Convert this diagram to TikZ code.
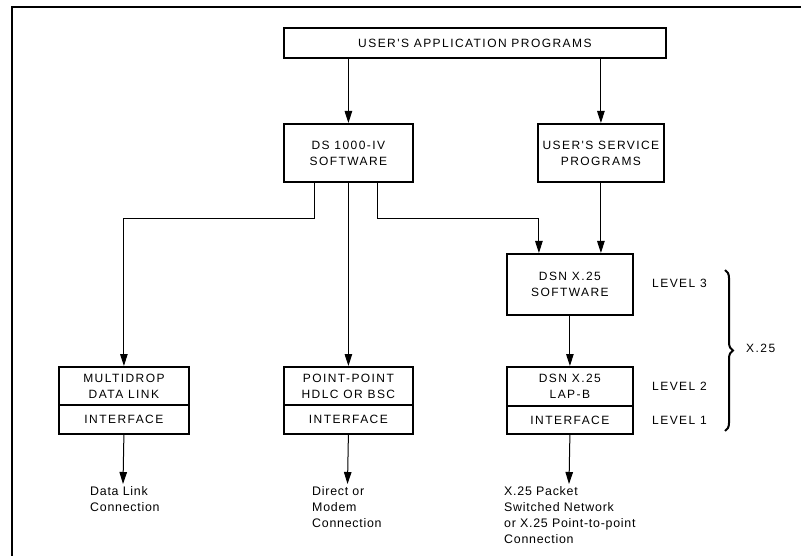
\documentclass[tikz,border=0pt]{standalone}
\usepackage{fontspec}
\setmainfont{Liberation Sans}
\newfontfamily\capsfont[LetterSpace=12]{Liberation Sans}
\newfontfamily\lowfont[LetterSpace=6]{Liberation Sans}
\usetikzlibrary{arrows.meta,decorations.pathreplacing}
\tikzset{
  box/.style={draw, line width=1.8pt, rectangle, inner sep=0pt, align=center, anchor=north west,
    font=\capsfont\fontsize{12}{16}\selectfont},
  conn/.style={line width=1pt, -{Triangle[length=12pt,width=7.5pt]}},
  lbl/.style={inner sep=0pt, align=left, anchor=north west, font=\lowfont\fontsize{12.4}{16}\selectfont},
  lvl/.style={inner sep=0pt, anchor=west, font=\capsfont\fontsize{12}{16}\selectfont},
  frameline/.style={line width=1.3pt}
}
\begin{document}
\begin{tikzpicture}[x=1pt,y=-1pt]
\useasboundingbox (0,0) rectangle (801,556);
% frame
\coordinate (fb) at (12,556);
\coordinate (fc) at (12,7);
\coordinate (fr) at (801,7);
\draw[frameline] (fb) -- (fc) -- (fr);

% boxes
\node[box, minimum width=382pt, minimum height=30pt] (top) at (283,27) {USER'S APPLICATION PROGRAMS};
\node[box, minimum width=129pt, minimum height=58pt] (ds) at (283,123) {DS 1000-IV\\SOFTWARE};
\node[box, minimum width=126pt, minimum height=58pt] (svc) at (537,123) {USER'S SERVICE\\PROGRAMS};
\node[box, minimum width=126pt, minimum height=61pt] (dsn) at (506,253) {DSN X.25\\SOFTWARE};

\node[box, minimum width=130pt, minimum height=38pt] (mdA) at (58,366) {MULTIDROP\\DATA LINK};
\node[box, minimum width=130pt, minimum height=29pt] (mdB) at (58,404) {INTERFACE};
\node[box, minimum width=129pt, minimum height=38pt] (ppA) at (283,366) {POINT-POINT\\HDLC OR BSC};
\node[box, minimum width=129pt, minimum height=29pt] (ppB) at (283,404) {INTERFACE};
\node[box, minimum width=126pt, minimum height=39pt] (lbA) at (506,366) {DSN X.25\\LAP-B};
\node[box, minimum width=126pt, minimum height=28pt] (lbB) at (506,405) {INTERFACE};

% level labels
\node[lvl] (l3) at (652,283) {LEVEL 3};
\node[lvl] (l2) at (652,386) {LEVEL 2};
\node[lvl] (l1) at (652,420) {LEVEL 1};
\coordinate (bt) at (725,270);
\coordinate (bb) at (725,431);
\draw[line width=2pt, decorate, decoration={brace, amplitude=8pt}] (bt) -- (bb);
\node[lvl] (x25) at (746,348) {X.25};

% connectors
\coordinate (j1) at (314,219);
\coordinate (j2) at (377,219);
\draw[conn] (top.south -| ds.north) -- (ds.north);
\draw[conn] (top.south -| svc.north) -- (svc.north);
\draw[conn] (ds.south -| j1) -- (j1) -| (mdA.north);
\draw[conn] (ds.south) -- (ppA.north);
\draw[conn] (ds.south -| j2) -- (j2) -| ([xshift=-31pt]dsn.north);
\draw[conn] (svc.south) -- (svc.south |- dsn.north);
\draw[conn] (dsn.south) -- (lbA.north);

% outputs
\coordinate (e1) at (123,484);
\coordinate (e2) at (347.5,484);
\coordinate (e3) at (569,484);
\draw[conn] (mdB.south) -- (e1);
\draw[conn] (ppB.south) -- (e2);
\draw[conn] (lbB.south) -- (e3);
\node[lbl] (t1) at (90,486) {Data Link\\Connection};
\node[lbl] (t2) at (312,486) {Direct or\\Modem\\Connection};
\node[lbl] (t3) at (504,486) {X.25 Packet\\Switched Network\\or X.25 Point-to-point\\Connection};
\end{tikzpicture}
\end{document}
